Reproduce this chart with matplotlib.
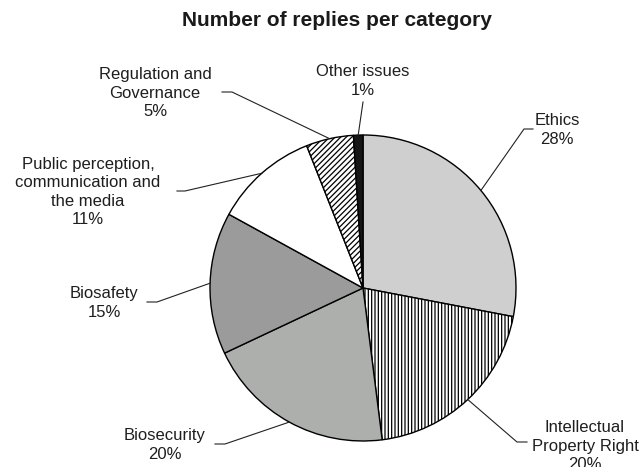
"""Pie chart: number of replies per category."""

import numpy as np
import matplotlib
matplotlib.use("Agg")
import matplotlib.pyplot as plt

plt.rcParams["font.family"] = ["Liberation Sans", "DejaVu Sans"]
plt.rcParams["hatch.linewidth"] = 0.9

# Data
categories = [
    "Ethics",
    "Intellectual\nProperty Right",
    "Biosecurity",
    "Biosafety",
    "Public perception,\ncommunication and\nthe media",
    "Regulation and\nGovernance",
    "Other issues",
]
shares = [28, 20, 20, 15, 11, 5, 1]

# Styles
fills = ["#cfcfcf", "white", "#adafad", "#9b9b9b", "white", "white", "#151515"]
hatches = [None, "|||||", None, None, None, "//////", None]

# Layout (pixels, origin top-left)
W, H = 643, 467
CX, CY, R = 363, 288, 153

# label centre + leader polyline (text side first, pie anchor added later)
label_pos = [(557, 130), (585, 446), (165, 445), (104, 303), (88, 192), (155, 93), (363, 81)]
leader_pts = [
    [(533, 129), (524, 129)],
    [(527, 442), (517, 442)],
    [(215, 444), (225, 444)],
    [(147, 302), (157, 302)],
    [(177, 191), (185, 191)],
    [(222, 92), (232, 92)],
    [(363, 102)],
]

fig = plt.figure(figsize=(W / 100, H / 100), dpi=100)
ax = fig.add_axes([0, 0, 1, 1])

wedges, _ = ax.pie(
    shares,
    startangle=90,
    counterclock=False,
    center=(CX, H - CY),
    radius=R,
    colors=fills,
    wedgeprops=dict(edgecolor="black", linewidth=1.0),
)
for w, h in zip(wedges, hatches):
    if h:
        w.set_hatch(h)

ax.set_xlim(0, W)
ax.set_ylim(0, H)
ax.set_aspect("equal")
ax.axis("off")

for w, cat, val, (tx, ty), pts in zip(wedges, categories, shares, label_pos, leader_pts):
    mid = np.deg2rad((w.theta1 + w.theta2) / 2)
    anchor = (CX + R * np.cos(mid), H - CY + R * np.sin(mid))
    xs = [p[0] for p in pts] + [anchor[0]]
    ys = [H - p[1] for p in pts] + [anchor[1]]
    ax.plot(xs, ys, color="#222222", linewidth=0.8)
    ax.text(tx, H - ty, f"{cat}\n{val}%", ha="center", va="center",
            fontsize=12, color="#1e1e1e", linespacing=1.28)

ax.text(337, H - 21, "Number of replies per category", ha="center", va="center",
        fontsize=15, fontweight="bold", color="#1a1a1a")

fig.savefig("out.png", dpi=100, facecolor="white")
